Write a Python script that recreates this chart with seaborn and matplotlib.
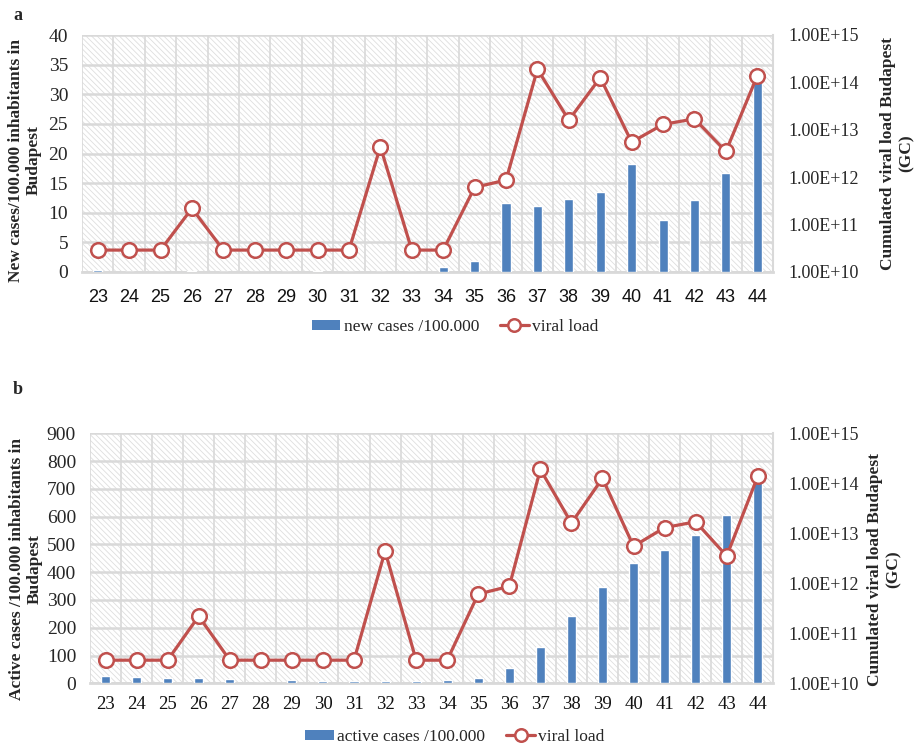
import numpy as np
import pandas as pd
import matplotlib
matplotlib.use("Agg")
import matplotlib.pyplot as plt
from matplotlib.patches import Rectangle, Patch
from matplotlib.lines import Line2D
from matplotlib.ticker import FixedLocator, FuncFormatter, NullFormatter
import seaborn as sns

# Epidemiological weeks
weeks = [str(w) for w in range(23, 45)]

# New COVID-19 cases per 100,000 inhabitants (Budapest)
new_cases = [0.3, 0.0, 0.0, 0.1, 0.0, 0.0, 0.0, 0.2, 0.0, 0.0, 0.0, 0.8,
             1.9, 11.6, 11.2, 12.3, 13.5, 18.3, 8.7, 12.1, 16.7, 33.0]

# Active cases per 100,000 inhabitants (Budapest)
active_cases = [27, 24, 20, 18, 16, 0, 11, 8, 9, 9, 9, 12,
                20, 54, 132, 244, 348, 434, 479, 533, 606, 770]

# Cumulated viral load in wastewater (genome copies)
viral_load = [2.9e10, 2.9e10, 2.9e10, 2.2e11, 2.9e10, 2.9e10, 2.9e10, 2.9e10,
              2.9e10, 4.4e12, 2.9e10, 2.9e10, 6.1e11, 8.7e11, 1.9e14, 1.6e13,
              1.26e14, 5.5e12, 1.3e13, 1.7e13, 3.5e12, 1.38e14]

right_ticks = [1e10, 1e11, 1e12, 1e13, 1e14, 1e15]

BAR = "#4f81bd"
RED = "#c0504d"
GRID = "#d9d9d9"
SERIF = "Liberation Serif"
SANS = "Liberation Sans"

sns.set_theme(style="white")
plt.rcParams["font.family"] = [SERIF, "DejaVu Serif"]
plt.rcParams["hatch.linewidth"] = 0.6

df = pd.DataFrame({"week": weeks, "new": new_cases, "active": active_cases,
                   "viral": viral_load})
n = len(weeks)
pos = np.arange(n)

fig = plt.figure(figsize=(9.19, 7.44), dpi=100)


def sci_label(v, _):
    e = int(round(np.log10(v)))
    return f"1.00E+{e:02d}"


def panel(rect, col, ymax, ystep, xfont, xsize, xpad):
    ax = fig.add_axes(rect)
    ax.set_facecolor("white")
    ax.add_patch(Rectangle((0, 0), 1, 1, transform=ax.transAxes,
                           facecolor="white", edgecolor="#dedede", lw=0,
                           hatch="\\\\\\\\\\\\", zorder=0))
    sns.barplot(data=df, x="week", y=col, color=BAR, width=0.29,
                saturation=1, ax=ax, zorder=3)
    ax.set_xlim(-0.5, n - 0.5)
    ax.set_ylim(0, ymax)
    ax.yaxis.set_major_locator(FixedLocator(np.arange(0, ymax + ystep / 2, ystep)))
    ax.xaxis.set_minor_locator(FixedLocator(np.arange(-0.5, n, 1.0)))
    ax.grid(True, axis="y", which="major", color=GRID, lw=1.8, zorder=1)
    ax.grid(True, axis="x", which="minor", color=GRID, lw=1.2, zorder=1)
    ax.grid(False, axis="x", which="major")
    ax.set_axisbelow(True)
    for s in ["top", "left"]:
        ax.spines[s].set_visible(False)
    ax.spines["bottom"].set_color(GRID)
    ax.spines["bottom"].set_linewidth(2.0)
    ax.spines["right"].set_color(GRID)
    ax.spines["right"].set_linewidth(1.5)
    ax.tick_params(axis="x", which="major", length=0, pad=xpad,
                   labelsize=xsize, labelcolor="#111111")
    ax.tick_params(axis="x", which="minor", length=6, width=1.2,
                   color=GRID, direction="out")
    ax.tick_params(axis="y", length=0, pad=10, labelsize=14)
    for t in ax.get_xticklabels():
        t.set_fontfamily(xfont)
    ax.set_xlabel("")
    ax.set_ylabel("")

    ax2 = ax.twinx()
    sns.lineplot(x=pos, y=df["viral"], ax=ax2, color=RED, lw=2.3,
                 marker="o", markersize=10.5, markerfacecolor="white",
                 markeredgecolor=RED, markeredgewidth=1.8, zorder=5)
    ax2.set_yscale("log")
    ax2.set_ylim(1e10, 1e15)
    ax2.set_xlim(-0.5, n - 0.5)
    ax2.yaxis.set_major_locator(FixedLocator(right_ticks))
    ax2.yaxis.set_major_formatter(FuncFormatter(sci_label))
    ax2.yaxis.set_minor_formatter(NullFormatter())
    ax2.tick_params(axis="y", which="both", length=0, pad=11, labelsize=13)
    ax2.grid(False)
    for s in ax2.spines.values():
        s.set_visible(False)
    ax2.set_ylabel("")
    return ax, ax2


W, H = 919, 744
LBL = dict(rotation=90, ha="center", va="center", multialignment="center",
           fontsize=12.5, fontweight="bold")

# Panel a
axa, axa2 = panel([82 / W, 1 - 272 / H, 691 / W, 237 / H], "new", 40, 5,
                  SANS, 13, 12)
fig.text(18 / W, 1 - 15 / H, "a", fontsize=13, fontweight="bold",
         ha="center", va="center")
fig.text(25 / W, 1 - 160 / H, "New cases/100.000 inhabitants in\nBudapest", **LBL)
fig.text(897 / W, 1 - 153 / H, "Cumulated viral load Budapest\n(GC)", **LBL)

# Panel b
axb, axb2 = panel([90 / W, 1 - 683.3 / H, 683.3 / W, 250 / H], "active", 900, 100,
                  SERIF, 13.5, 9)
fig.text(18 / W, 1 - 390 / H, "b", fontsize=13, fontweight="bold",
         ha="center", va="center")
fig.text(26 / W, 1 - 569 / H, "Active cases /100.000 inhabitants in\nBudapest", **LBL)
fig.text(884 / W, 1 - 569 / H, "Cumulated viral load Budapest\n(GC)", **LBL)


def legend_handles(label):
    bar_h = Patch(facecolor=BAR, edgecolor="none", label=label)
    line_h = Line2D([], [], color=RED, lw=2.3, marker="o", markersize=9,
                    markerfacecolor="white", markeredgecolor=RED,
                    markeredgewidth=1.8, label="viral load")
    return [bar_h, line_h]


leg_kw = dict(loc="center", ncol=2, frameon=False, fontsize=12.5,
              handlelength=1.65, handleheight=0.5, columnspacing=1.2,
              handletextpad=0.2)
fig.legend(handles=legend_handles("new cases /100.000"),
           bbox_to_anchor=(455 / W, 1 - 327 / H), **leg_kw)
fig.legend(handles=legend_handles("active cases /100.000"),
           bbox_to_anchor=(455 / W, 1 - 737 / H), **leg_kw)

fig.savefig("out.png", dpi=100)
